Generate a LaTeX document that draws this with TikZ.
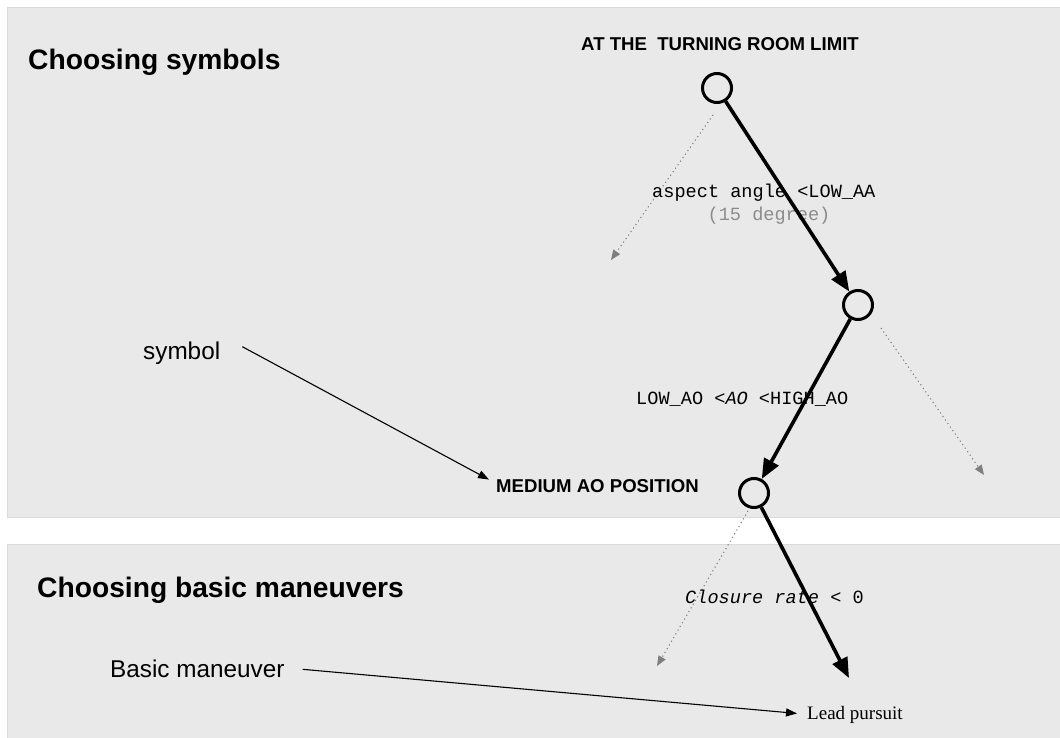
\documentclass[tikz,border=0pt]{standalone}
\usepackage{fontspec}
\setmainfont{Liberation Sans}
\newfontfamily\monofont{Liberation Mono}
\newfontfamily\timesfont{Liberation Serif}
\usetikzlibrary{arrows.meta}
\definecolor{panelfill}{HTML}{E9E9E9}
\definecolor{panelline}{HTML}{DADADA}
\definecolor{dotgray}{HTML}{7F7F7F}
\definecolor{lightgray}{HTML}{8C8C8C}
\tikzset{
  panel/.style={fill=panelfill, draw=panelline, line width=1pt},
  title/.style={anchor=base west, inner sep=0pt, font=\fontsize{28.2}{33}\selectfont\bfseries},
  caps/.style={anchor=base west, inner sep=0pt, font=\fontsize{18.6}{22}\selectfont\bfseries},
  plain/.style={anchor=base west, inner sep=0pt, font=\fontsize{24.3}{29}\selectfont},
  cond/.style={anchor=base west, inner sep=0pt, font=\fontsize{18.6}{22}\selectfont\monofont},
  state/.style={circle, draw=black, line width=3pt, minimum size=29pt, inner sep=0pt, fill=panelfill},
  thickarrow/.style={line width=3.6pt, -{Triangle[length=20pt,width=16pt]}},
  dotarrow/.style={draw=dotgray, line width=1.1pt, dash pattern=on 1.1pt off 3.2pt, -{Triangle[length=10pt,width=8pt,fill=dotgray]}},
  thinarrow/.style={line width=1.1pt, -{Triangle[length=11pt,width=8pt]}},
}
\begin{document}
\begin{tikzpicture}[x=1pt, y=-1pt]
\useasboundingbox (0,0) rectangle (1060,738);
\fill[white] (0,0) rectangle (1060,738);
% panels
\draw[panel] (7,8) rectangle (1065,517);
\draw[panel] (7,544) rectangle (1065,745);

% titles
\node[title] (t1) at (28,70) {Choosing symbols};
\node[title] (t2) at (37,597) {Choosing basic maneuvers};

% states
\node[state] (c1) at (717,88) {};
\node[state] (c2) at (858,305) {};
\node[state] (c3) at (754,493) {};

\node[caps, anchor=base] (top) at (720,51) {AT THE\ \ TURNING ROOM LIMIT};
\node[caps] (med) at (496,492) {MEDIUM AO POSITION};

% free ends
\coordinate (e3) at (849,678);
\coordinate (d1) at (611,260);
\coordinate (d2) at (984,475);
\coordinate (d3) at (657,666);

% dotted branches
\draw[dotarrow] ([shift={(-4,27)}]c1.center) -- (d1);
\draw[dotarrow] ([shift={(23,23)}]c2.center) -- (d2);
\draw[dotarrow] ([shift={(-6,18)}]c3.center) -- (d3);

% conditions
\node[cond] (a1) at (652,198) {aspect angle <LOW\_AA};
\node[cond, anchor=base, text=lightgray] (a2) at (769,221) {(15 degree)};
\node[cond] (a3) at (636,404) {LOW\_AO <\textit{AO} <HIGH\_AO};
\node[cond] (a4) at (685,603) {\textit{Closure rate} < 0};

% main path
\draw[thickarrow] (c1) -- (c2);
\draw[thickarrow] (c2) -- (c3);
\draw[thickarrow] (c3) -- (e3);

% annotations
\node[plain] (sym) at (143,359) {symbol};
\node[plain] (bm) at (110,677) {Basic maneuver};
\node[anchor=base west, inner sep=0pt, font=\fontsize{19}{22}\selectfont\timesfont] (lp) at (807,719) {Lead pursuit};

\draw[thinarrow] ([shift={(22,-6)}]sym.east) -- ([shift={(-7,-6)}]med.west);
\draw[thinarrow] ([shift={(18,1)}]bm.east) -- ([shift={(-10,-1)}]lp.west);
\end{tikzpicture}
\end{document}
